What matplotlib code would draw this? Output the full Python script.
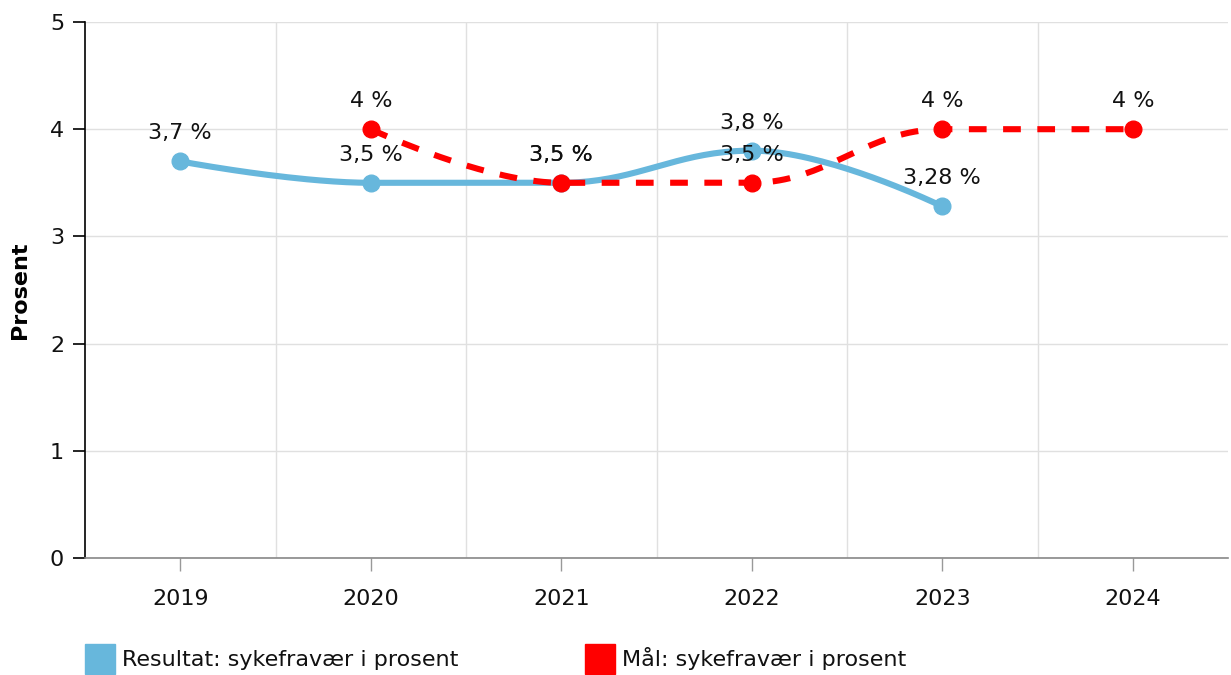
import matplotlib.pyplot as plt
from matplotlib.patches import Rectangle
import numpy as np

# data
years = [2019, 2020, 2021, 2022, 2023, 2024]
resultat_years = [2019, 2020, 2021, 2022, 2023]
resultat = [3.7, 3.5, 3.5, 3.8, 3.28]
resultat_labels = ['3,7 %', '3,5 %', '3,5 %', '3,8 %', '3,28 %']
maal_years = [2020, 2021, 2022, 2023, 2024]
maal = [4, 3.5, 3.5, 4, 4]
maal_labels = ['4 %', '3,5 %', '3,5 %', '4 %', '4 %']

BLUE = '#67b7dc'
RED = '#ff0000'
FS = 16


def spline(xs, ys, smoothing=1.5, n=40):
    # highcharts-style bezier spline through the points
    xs = np.asarray(xs, float)
    ys = np.asarray(ys, float)
    m = len(xs)
    lc = [(xs[i], ys[i]) for i in range(m)]
    rc = [(xs[i], ys[i]) for i in range(m)]
    d = smoothing + 1
    for i in range(1, m - 1):
        x, y = xs[i], ys[i]
        lx, ly = xs[i - 1], ys[i - 1]
        nx, ny = xs[i + 1], ys[i + 1]
        lcx = (smoothing * x + lx) / d
        lcy = (smoothing * y + ly) / d
        rcx = (smoothing * x + nx) / d
        rcy = (smoothing * y + ny) / d
        if rcx != lcx:
            corr = (rcy - lcy) * (rcx - x) / (rcx - lcx) + y - rcy
            lcy += corr
            rcy += corr
        if lcy > ly and lcy > y:
            lcy = max(ly, y)
            rcy = 2 * y - lcy
        elif lcy < ly and lcy < y:
            lcy = min(ly, y)
            rcy = 2 * y - lcy
        if rcy > ny and rcy > y:
            rcy = max(ny, y)
            lcy = 2 * y - rcy
        elif rcy < ny and rcy < y:
            rcy = min(ny, y)
            lcy = 2 * y - rcy
        lc[i] = (lcx, lcy)
        rc[i] = (rcx, rcy)
    t = np.linspace(0, 1, n)[:, None]
    out = []
    for i in range(m - 1):
        p0 = np.array([xs[i], ys[i]])
        p1 = np.array(rc[i])
        p2 = np.array(lc[i + 1])
        p3 = np.array([xs[i + 1], ys[i + 1]])
        seg = ((1 - t) ** 3) * p0 + 3 * ((1 - t) ** 2) * t * p1 + 3 * (1 - t) * t ** 2 * p2 + t ** 3 * p3
        out.append(seg if i == 0 else seg[1:])
    out = np.vstack(out)
    return out[:, 0], out[:, 1]


fig = plt.figure(figsize=(12.31, 6.75), dpi=100)
ax = fig.add_axes([85 / 1231, 1 - 558 / 675, (1228 - 85) / 1231, (558 - 22) / 675])

# lines
bx, by = spline(resultat_years, resultat)
ax.plot(bx, by, color=BLUE, lw=4.4, solid_capstyle='round', zorder=3)
ax.plot(resultat_years, resultat, 'o', color=BLUE, ms=12, zorder=4)

rx, ry = spline(maal_years, maal)
ax.plot(rx, ry, color=RED, lw=4.4, dashes=(2.9, 2.7), dash_capstyle='butt', zorder=5)
ax.plot(maal_years, maal, 'o', color=RED, ms=12, zorder=6)

# data labels
for x, y, s in zip(resultat_years, resultat, resultat_labels):
    ax.annotate(s, (x, y), xytext=(0, 13), textcoords='offset points',
                ha='center', va='bottom', fontsize=FS, color='#111111', zorder=7)
for x, y, s in zip(maal_years, maal, maal_labels):
    ax.annotate(s, (x, y), xytext=(0, 13), textcoords='offset points',
                ha='center', va='bottom', fontsize=FS, color='#111111', zorder=7)

# axes
ax.set_xlim(2018.5, 2024.5)
ax.set_ylim(0, 5)
ax.set_xticks(years)
ax.set_xticks(np.arange(2019.5, 2024, 1), minor=True)
ax.set_yticks(range(6))
ax.grid(True, which='minor', axis='x', color='#e0e0e0', lw=1)
ax.grid(True, which='major', axis='y', color='#e0e0e0', lw=1)
ax.grid(False, which='major', axis='x')
ax.tick_params(axis='x', which='minor', length=0)
ax.tick_params(axis='x', which='major', length=9, width=1, color='#999999',
               labelsize=FS, pad=13, labelcolor='#111111')
ax.tick_params(axis='y', length=9, width=1.2, color='black', labelsize=FS,
               pad=6, labelcolor='#111111')
ax.spines['top'].set_visible(False)
ax.spines['right'].set_visible(False)
ax.spines['left'].set_color('black')
ax.spines['left'].set_linewidth(1.2)
ax.spines['bottom'].set_color('#888888')
ax.spines['bottom'].set_linewidth(1.2)
ax.set_axisbelow(True)
ax.set_ylabel('Prosent', fontsize=FS, fontweight='bold', labelpad=14)

# legend
fig.patches.append(Rectangle((85 / 1231, 1 - 674 / 675), 30 / 1231, 30 / 675,
                             transform=fig.transFigure, color=BLUE))
fig.text(122 / 1231, 1 - 666 / 675, 'Resultat: sykefravær i prosent',
         fontsize=FS, va='baseline', color='#111111')
fig.patches.append(Rectangle((585 / 1231, 1 - 674 / 675), 30 / 1231, 30 / 675,
                             transform=fig.transFigure, color=RED))
fig.text(622 / 1231, 1 - 666 / 675, 'Mål: sykefravær i prosent',
         fontsize=FS, va='baseline', color='#111111')

fig.savefig('out.png', dpi=100)
